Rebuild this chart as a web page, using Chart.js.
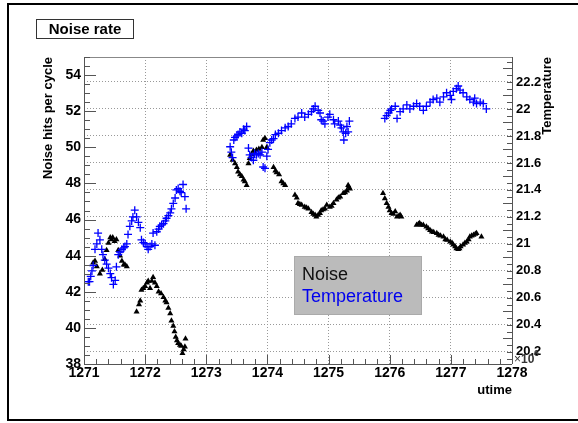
<!DOCTYPE html>
<html>
<head>
<meta charset="utf-8">
<script src="https://cdn.jsdelivr.net/npm/chart.js@4.4.1/dist/chart.umd.min.js"></script>
<style>
  body { margin: 0; background: #fff; }
  canvas { display: block; }
</style>
</head>
<body>
<canvas id="grafico" width="578" height="423"></canvas>
<script>
// tick labels
const xTicks = [1271, 1272, 1273, 1274, 1275, 1276, 1277, 1278];
const noiseTicks = [38, 40, 42, 44, 46, 48, 50, 52, 54];
const tempTicks = [20.2, 20.4, 20.6, 20.8, 21, 21.2, 21.4, 21.6, 21.8, 22, 22.2];

// noise hits per cycle (utime in units of 1e6)
const noiseX = [
  1271.15, 1271.18, 1271.21, 1271.26, 1271.30, 1271.34, 1271.37, 1271.40, 1271.43, 1271.45,
  1271.47, 1271.50, 1271.53, 1271.56, 1271.59, 1271.62, 1271.65, 1271.67, 1271.70,
  1271.86, 1271.90, 1271.92, 1271.94, 1271.97, 1272.00, 1272.03, 1272.05, 1272.08, 1272.11,
  1272.13, 1272.16, 1272.19, 1272.22, 1272.26, 1272.30, 1272.33, 1272.35, 1272.38, 1272.41,
  1272.43, 1272.46, 1272.48, 1272.50, 1272.52, 1272.54, 1272.57, 1272.59, 1272.61, 1272.63,
  1272.65, 1272.66,
  1273.39, 1273.43, 1273.47, 1273.50, 1273.52, 1273.55, 1273.58, 1273.61, 1273.63, 1273.66,
  1273.69, 1273.71, 1273.74, 1273.77, 1273.80, 1273.82, 1273.86, 1273.91, 1273.93, 1273.96,
  1273.99, 1274.10, 1274.13, 1274.15, 1274.19, 1274.23, 1274.26, 1274.29,
  1274.45, 1274.48, 1274.50, 1274.53, 1274.56, 1274.61, 1274.64, 1274.67, 1274.72, 1274.75,
  1274.78, 1274.80, 1274.83, 1274.86, 1274.88, 1274.91, 1274.94, 1274.97, 1275.02, 1275.05,
  1275.08, 1275.13, 1275.16, 1275.19, 1275.24, 1275.27, 1275.30, 1275.32, 1275.33, 1275.35,
  1275.89, 1275.92, 1275.95, 1275.98, 1276.00, 1276.03, 1276.06, 1276.09, 1276.12, 1276.15,
  1276.17, 1276.19,
  1276.44, 1276.47, 1276.49, 1276.52, 1276.55, 1276.60, 1276.63, 1276.66, 1276.69, 1276.72,
  1276.77, 1276.80, 1276.83, 1276.88, 1276.91, 1276.94, 1276.99, 1277.02, 1277.04, 1277.07,
  1277.09, 1277.12, 1277.14, 1277.16, 1277.20, 1277.23, 1277.26, 1277.29, 1277.31, 1277.34,
  1277.37, 1277.40, 1277.42, 1277.50
];
const noiseY = [
  43.6, 43.7, 43.4, 43.0, 43.2, 43.8, 44.3, 44.7, 45.0, 44.9,
  45.0, 44.8, 44.9, 44.3, 44.0, 43.7, 43.5, 43.5, 43.4,
  40.9, 41.3, 41.5, 42.1, 42.2, 42.3, 42.5, 42.6, 42.2, 42.6,
  42.8, 42.5, 42.3, 42.0, 41.9, 41.7, 41.5, 41.4, 41.1, 40.8,
  40.4, 40.1, 39.8, 39.5, 39.3, 39.15, 39.05, 39.0, 38.6, 38.8,
  38.96, 39.4,
  49.57, 49.3, 49.1, 48.9, 48.65, 48.5, 48.4, 48.2, 48.1, 47.9,
  49.1, 49.4, 49.6, 49.8, 49.7, 49.85, 49.9, 50.0, 50.4, 50.5,
  50.0, 48.9, 48.7, 48.6, 48.5, 48.1, 48.0, 47.9,
  47.36, 47.2, 46.9, 46.85, 46.8, 46.7, 46.65, 46.6, 46.4, 46.3,
  46.25, 46.15, 46.25, 46.35, 46.5, 46.55, 46.6, 46.8, 46.7, 46.75,
  46.9, 47.1, 47.2, 47.26, 47.45, 47.5, 47.6, 47.9, 47.8, 47.7,
  47.45, 47.17, 46.9, 46.7, 46.5, 46.35, 46.3, 46.44, 46.16, 46.2,
  46.25, 46.16,
  45.7, 45.75, 45.8, 45.7, 45.7, 45.6, 45.5, 45.4, 45.33, 45.3,
  45.24, 45.14, 45.1, 45.05, 44.9, 44.87, 44.77, 44.7, 44.6, 44.5,
  44.4, 44.35, 44.4, 44.5, 44.6, 44.7, 44.77, 44.9, 45.05, 45.1,
  45.14, 45.2, 45.24, 45.05
];

// temperature
const tempX = [
  1271.07, 1271.09, 1271.11, 1271.13, 1271.15, 1271.18, 1271.21, 1271.23, 1271.26, 1271.29,
  1271.31, 1271.34, 1271.37, 1271.40, 1271.43, 1271.45, 1271.48, 1271.51, 1271.53, 1271.56,
  1271.59, 1271.62, 1271.65, 1271.67, 1271.70, 1271.72, 1271.75, 1271.78, 1271.80, 1271.83,
  1271.86, 1271.89, 1271.92, 1271.94, 1271.97, 1272.00, 1272.03, 1272.05, 1272.08, 1272.11,
  1272.13, 1272.16, 1272.19, 1272.22, 1272.24, 1272.27, 1272.30, 1272.33, 1272.35, 1272.38,
  1272.41, 1272.43, 1272.46, 1272.49, 1272.51, 1272.54, 1272.57, 1272.59, 1272.62, 1272.65,
  1272.67,
  1273.39, 1273.41, 1273.43, 1273.45, 1273.47, 1273.50, 1273.52, 1273.55, 1273.58, 1273.61,
  1273.63, 1273.66, 1273.69, 1273.71, 1273.74, 1273.77, 1273.79, 1273.82, 1273.85, 1273.88,
  1273.91, 1273.93, 1273.96, 1273.99, 1274.01, 1274.04, 1274.07, 1274.10, 1274.13, 1274.18,
  1274.23, 1274.29, 1274.34, 1274.39, 1274.45, 1274.50, 1274.56, 1274.61, 1274.67, 1274.72,
  1274.75, 1274.78, 1274.83, 1274.86, 1274.88, 1274.91, 1274.94, 1274.99, 1275.02, 1275.08,
  1275.10, 1275.16, 1275.19, 1275.21, 1275.24, 1275.25, 1275.28, 1275.30, 1275.32, 1275.34,
  1275.92, 1275.95, 1275.98, 1276.01, 1276.03, 1276.09, 1276.12, 1276.17, 1276.22, 1276.28,
  1276.33, 1276.39, 1276.44, 1276.49, 1276.55, 1276.60, 1276.66, 1276.71, 1276.77, 1276.82,
  1276.88, 1276.93, 1276.99, 1277.01, 1277.04, 1277.09, 1277.12, 1277.15, 1277.20, 1277.26,
  1277.31, 1277.37, 1277.39, 1277.42, 1277.48, 1277.53, 1277.58
];
const tempY = [
  20.72, 20.72, 20.76, 20.80, 20.84, 20.96, 21.00, 21.08, 21.03, 20.96,
  20.92, 20.88, 20.85, 20.82, 20.78, 20.75, 20.70, 20.73, 20.83, 20.92,
  20.94, 20.96, 20.97, 20.98, 21.00, 21.07, 21.13, 21.17, 21.20, 21.25,
  21.20, 21.16, 21.12, 21.03, 21.01, 21.00, 20.98, 20.96, 20.98, 21.00,
  21.08, 20.99, 21.09, 21.11, 21.13, 21.14, 21.15, 21.17, 21.19, 21.21,
  21.23, 21.26, 21.30, 21.34, 21.40, 21.41, 21.39, 21.38, 21.44, 21.35,
  21.26,
  21.72, 21.68, 21.64, 21.77, 21.79, 21.80, 21.81, 21.83, 21.82, 21.85,
  21.84, 21.87, 21.71, 21.66, 21.64, 21.62, 21.67, 21.66, 21.67, 21.66,
  21.68, 21.57, 21.56, 21.65, 21.70, 21.75, 21.77, 21.78, 21.81, 21.82,
  21.84, 21.86, 21.87, 21.89, 21.93, 21.94, 21.97, 21.94, 21.96, 21.98,
  22.00, 22.02, 21.99, 21.97, 21.92, 21.91, 21.89, 21.94, 21.96, 21.92,
  21.89, 21.91, 21.88, 21.86, 21.83, 21.77, 21.82, 21.87, 21.83, 21.91,
  21.93, 21.95, 21.97, 21.99, 22.00, 22.02, 21.93, 21.98, 22.00, 22.03,
  22.00, 22.02, 22.04, 22.02, 21.99, 22.02, 22.05, 22.07, 22.08, 22.05,
  22.09, 22.12, 22.10, 22.07, 22.13, 22.15, 22.17, 22.14, 22.12, 22.09,
  22.07, 22.05, 22.08, 22.04, 22.05, 22.04, 22.00
];

const FONT = "'Liberation Sans', Arial, Helvetica, sans-serif";

function pares(xs, ys) {
  return xs.map((v, i) => ({ x: v, y: ys[i] }));
}

function fixTicks(lista) {
  return function (scale) {
    scale.ticks = lista.map(v => ({ value: v }));
  };
}

// inward ticks, frame, titles, legend
const extras = {
  id: "extras",
  afterDraw(chart) {
    const ctx = chart.ctx;
    const a = chart.chartArea;
    const sx = chart.scales.x, sy = chart.scales.y, sy2 = chart.scales.y2;
    ctx.save();

    // frame
    ctx.strokeStyle = "#888";
    ctx.lineWidth = 1;
    ctx.beginPath();
    ctx.moveTo(a.left, a.top + 0.5);
    ctx.lineTo(a.right, a.top + 0.5);
    ctx.stroke();
    ctx.strokeStyle = "#555";
    ctx.beginPath();
    ctx.moveTo(a.left + 0.5, a.top);
    ctx.lineTo(a.left + 0.5, a.bottom);
    ctx.moveTo(a.left, a.bottom + 0.5);
    ctx.lineTo(a.right, a.bottom + 0.5);
    ctx.moveTo(a.right + 0.5, a.top);
    ctx.lineTo(a.right + 0.5, a.bottom);
    ctx.stroke();

    // ticks
    ctx.beginPath();
    for (let i = 0; i <= 35; i++) {
      const px = Math.round(sx.getPixelForValue(1271 + i * 0.2)) + 0.5;
      const len = i % 5 === 0 ? 9 : 5;
      ctx.moveTo(px, a.bottom);
      ctx.lineTo(px, a.bottom - len);
    }
    for (let i = 0; i <= 34; i++) {
      const py = Math.round(sy.getPixelForValue(38 + i * 0.5)) + 0.5;
      const len = i % 4 === 0 ? 12 : 6;
      ctx.moveTo(a.left, py);
      ctx.lineTo(a.left + len, py);
    }
    for (let i = 0; i <= 45; i++) {
      const v = 20.15 + i * 0.05;
      if (v > sy2.max) break;
      const py = Math.round(sy2.getPixelForValue(v)) + 0.5;
      const len = (i + 1) % 4 === 0 ? 9 : 5;
      ctx.moveTo(a.right, py);
      ctx.lineTo(a.right - len, py);
    }
    ctx.stroke();

    // outer border
    ctx.strokeStyle = "#000";
    ctx.lineWidth = 2;
    ctx.strokeRect(8, 4, 620, 416);

    // title box
    ctx.fillStyle = "#fff";
    ctx.fillRect(36, 19, 98, 20);
    ctx.strokeStyle = "#333";
    ctx.lineWidth = 1;
    ctx.strokeRect(36.5, 19.5, 97, 19);
    ctx.fillStyle = "#000";
    ctx.font = "bold 15px " + FONT;
    ctx.textAlign = "center";
    ctx.textBaseline = "middle";
    ctx.fillText("Noise rate", 85, 30);

    // axis titles
    ctx.font = "bold 13px " + FONT;
    ctx.textAlign = "right";
    ctx.textBaseline = "middle";
    ctx.fillText("utime", 512, 390);

    ctx.save();
    ctx.translate(48, a.top);
    ctx.rotate(-Math.PI / 2);
    ctx.textAlign = "right";
    ctx.fillText("Noise hits per cycle", 0, 0);
    ctx.restore();

    ctx.save();
    ctx.translate(547, a.top);
    ctx.rotate(-Math.PI / 2);
    ctx.textAlign = "right";
    ctx.fillText("Temperature", 0, 0);
    ctx.restore();

    // x10^6
    ctx.fillStyle = "#333";
    ctx.textAlign = "left";
    ctx.font = "12px " + FONT;
    ctx.fillText("\u00d7", 514, 360);
    ctx.font = "bold 12px " + FONT;
    ctx.fillText("10", 521, 360);
    ctx.font = "bold 9px " + FONT;
    ctx.fillText("6", 534, 354);

    // legend
    ctx.fillStyle = "#bbbbbb";
    ctx.fillRect(294, 256, 128, 59);
    ctx.strokeStyle = "#aaa";
    ctx.strokeRect(294.5, 256.5, 127, 58);
    ctx.font = "18px " + FONT;
    ctx.textAlign = "left";
    ctx.textBaseline = "alphabetic";
    ctx.fillStyle = "#111";
    ctx.fillText("Noise", 302, 280);
    ctx.fillStyle = "#0000ee";
    ctx.fillText("Temperature", 302, 302);

    ctx.restore();
  }
};

const ctx = document.getElementById("grafico").getContext("2d");
new Chart(ctx, {
  type: "scatter",
  data: {
    datasets: [
      {
        label: "Temperature",
        data: pares(tempX, tempY),
        yAxisID: "y2",
        pointStyle: "cross",
        pointRadius: 4,
        borderWidth: 1.3,
        borderColor: "#0000ff",
        backgroundColor: "#0000ff",
        order: 0
      },
      {
        label: "Noise",
        data: pares(noiseX, noiseY),
        yAxisID: "y",
        pointStyle: "triangle",
        pointRadius: 3.5,
        borderWidth: 0,
        backgroundColor: "#000",
        borderColor: "#000",
        order: 1
      }
    ]
  },
  options: {
    responsive: false,
    animation: false,
    layout: { padding: { top: 57, left: 0, right: 0, bottom: 0 } },
    plugins: {
      legend: { display: false },
      tooltip: { enabled: false }
    },
    scales: {
      x: {
        type: "linear",
        min: 1271,
        max: 1278,
        afterBuildTicks: fixTicks(xTicks),
        afterFit(scale) { scale.height = 59; },
        ticks: {
          color: "#000",
          font: { family: FONT, size: 14, weight: "bold" },
          padding: 1,
          maxRotation: 0,
          autoSkip: false,
          callback: v => String(v)
        },
        grid: { color: "#999", lineWidth: 1, drawTicks: false },
        border: { display: false, dash: [1, 2] }
      },
      y: {
        position: "left",
        min: 38,
        max: 55,
        afterBuildTicks: fixTicks(noiseTicks),
        afterFit(scale) { scale.width = 84; },
        ticks: {
          color: "#000",
          font: { family: FONT, size: 14, weight: "bold" },
          padding: 3,
          autoSkip: false
        },
        grid: { display: false, drawTicks: false },
        border: { display: false }
      },
      y2: {
        position: "right",
        min: 20.11,
        max: 22.385,
        afterBuildTicks: fixTicks(tempTicks),
        afterFit(scale) { scale.width = 66; },
        ticks: {
          color: "#000",
          font: { family: FONT, size: 13, weight: "bold" },
          padding: 4,
          autoSkip: false,
          callback: v => String(Number(v.toFixed(1)))
        },
        grid: { color: "#999", lineWidth: 1, drawTicks: false },
        border: { display: false, dash: [1, 2] }
      }
    }
  },
  plugins: [extras]
});
</script>
</body>
</html>
